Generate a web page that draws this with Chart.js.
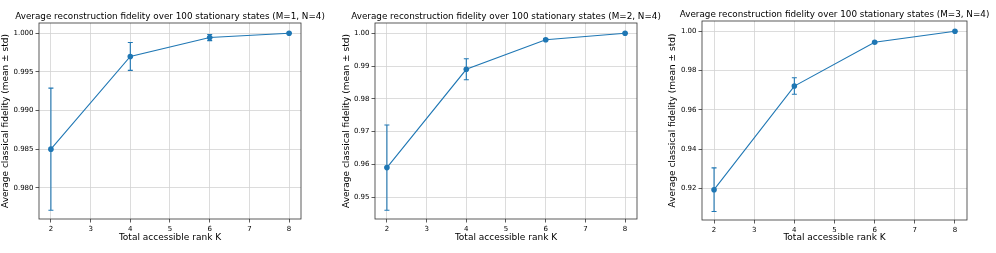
<!DOCTYPE html>
<html>
<head>
<meta charset="utf-8">
<script src="https://cdn.jsdelivr.net/npm/chart.js@4.4.1/dist/chart.umd.min.js"></script>
<style>
  html, body { margin: 0; padding: 0; background: #fff; }
  #wrap { position: relative; width: 996px; height: 253px; }
  .panel { position: absolute; top: 0; width: 332px; height: 253px; }
</style>
</head>
<body>
<div id="wrap">
  <div class="panel" style="left:0px"><canvas id="c1"></canvas></div>
  <div class="panel" style="left:332px"><canvas id="c2"></canvas></div>
  <div class="panel" style="left:664px"><canvas id="c3"></canvas></div>
</div>
<script>
// ---- data ----
const rankK = [2, 4, 6, 8];
const xTicks = [2, 3, 4, 5, 6, 7, 8];

const titles = [
  "Average reconstruction fidelity over 100 stationary states (M=1, N=4)",
  "Average reconstruction fidelity over 100 stationary states (M=2, N=4)",
  "Average reconstruction fidelity over 100 stationary states (M=3, N=4)"
];
const xLabel = "Total accessible rank K";
const yLabel = "Average classical fidelity (mean \u00b1 std)";

const meanM1 = [0.9850, 0.9970, 0.99945, 1.0000];
const stdM1  = [0.0079, 0.0018, 0.0004, 0.00003];
const meanM2 = [0.9590, 0.9890, 0.9980, 1.0000];
const stdM2  = [0.0130, 0.0032, 0.0003, 0.00003];
const meanM3 = [0.9193, 0.9721, 0.9944, 1.0000];
const stdM3  = [0.0111, 0.0042, 0.0004, 0.00003];

const yTicksM1 = [0.980, 0.985, 0.990, 0.995, 1.000];
const yTicksM2 = [0.95, 0.96, 0.97, 0.98, 0.99, 1.00];
const yTicksM3 = [0.92, 0.94, 0.96, 0.98, 1.00];

// ---- layout / style ----
const BLUE = '#1f77b4';
const FONT = 'DejaVu Sans';

const panels = [
  { id: 'c1', mean: meanM1, std: stdM1, ticks: yTicksM1, dec: 3, ymin: 0.97596, ymax: 1.00133,
    left: 39, right: 31, top: 23, bottom: 34, ylabX: 6 },
  { id: 'c2', mean: meanM2, std: stdM2, ticks: yTicksM2, dec: 2, ymin: 0.94332, ymax: 1.00313,
    left: 43, right: 27, top: 23, bottom: 34, ylabX: 15 },
  { id: 'c3', mean: meanM3, std: stdM3, ticks: yTicksM3, dec: 2, ymin: 0.90385, ymax: 1.00525,
    left: 38, right: 29, top: 21, bottom: 33, ylabX: 9 }
];

const decorPlugin = {
  id: 'decor',
  beforeDatasetsDraw(chart, args, opts) {
    const { ctx, scales: { x, y } } = chart;
    const ds = chart.data.datasets[0];
    const stds = opts.std;
    ctx.save();
    ctx.strokeStyle = BLUE;
    ctx.lineWidth = 1.1;
    ds.data.forEach((p, i) => {
      const px = x.getPixelForValue(p.x);
      const yt = y.getPixelForValue(p.y + stds[i]);
      const yb = y.getPixelForValue(p.y - stds[i]);
      ctx.beginPath();
      ctx.moveTo(px, yt); ctx.lineTo(px, yb);
      ctx.moveTo(px - 2.5, yt); ctx.lineTo(px + 2.5, yt);
      ctx.moveTo(px - 2.5, yb); ctx.lineTo(px + 2.5, yb);
      ctx.stroke();
    });
    ctx.restore();
  },
  afterDraw(chart, args, opts) {
    const { ctx, chartArea: a } = chart;
    ctx.save();
    ctx.strokeStyle = '#333';
    ctx.lineWidth = 0.8;
    ctx.strokeRect(a.left, a.top, a.right - a.left, a.bottom - a.top);
    ctx.fillStyle = '#000';
    ctx.font = '8.8px "' + FONT + '"';
    ctx.textAlign = 'center';
    ctx.textBaseline = 'middle';
    ctx.fillText(opts.title, (a.left + a.right) / 2, a.top - 6.5);
    ctx.font = '9px "' + FONT + '"';
    ctx.fillText(xLabel, (a.left + a.right) / 2, 238);
    ctx.translate(opts.ylabX, (a.top + a.bottom) / 2);
    ctx.rotate(-Math.PI / 2);
    ctx.fillText(yLabel, 0, 0);
    ctx.restore();
  }
};

panels.forEach((p, idx) => {
  const cv = document.getElementById(p.id);
  new Chart(cv, {
    type: 'line',
    data: {
      datasets: [{
        data: rankK.map((k, i) => ({ x: k, y: p.mean[i] })),
        borderColor: BLUE,
        backgroundColor: BLUE,
        borderWidth: 1.1,
        pointRadius: 2.8,
        pointBorderWidth: 0,
        pointBackgroundColor: BLUE,
        tension: 0
      }]
    },
    options: {
      responsive: true,
      maintainAspectRatio: false,
      animation: false,
      devicePixelRatio: 1,
      layout: { padding: { left: 0, right: p.right, top: p.top, bottom: 0 } },
      plugins: {
        legend: { display: false },
        tooltip: { enabled: false },
        decor: { std: p.std, title: titles[idx], ylabX: p.ylabX }
      },
      scales: {
        x: {
          type: 'linear',
          min: 1.7, max: 8.3,
          afterBuildTicks(s) { s.ticks = xTicks.map(v => ({ value: v })); },
          afterFit(s) { s.height = p.bottom; },
          grid: { color: '#d3d3d3', lineWidth: 0.8, tickColor: '#333', tickLength: 3.5, drawTicks: true },
          border: { display: false },
          ticks: { color: '#000', font: { family: FONT, size: 7 }, padding: 2, maxRotation: 0, autoSkip: false,
                   callback: v => String(v) }
        },
        y: {
          type: 'linear',
          min: p.ymin, max: p.ymax,
          afterBuildTicks(s) { s.ticks = p.ticks.map(v => ({ value: v })); },
          afterFit(s) { s.width = p.left; },
          grid: { color: '#d3d3d3', lineWidth: 0.8, tickColor: '#333', tickLength: 3.5, drawTicks: true },
          border: { display: false },
          ticks: { color: '#000', font: { family: FONT, size: 7 }, padding: 2, autoSkip: false,
                   callback: v => Number(v).toFixed(p.dec) }
        }
      }
    },
    plugins: [decorPlugin]
  });
});
</script>
</body>
</html>
